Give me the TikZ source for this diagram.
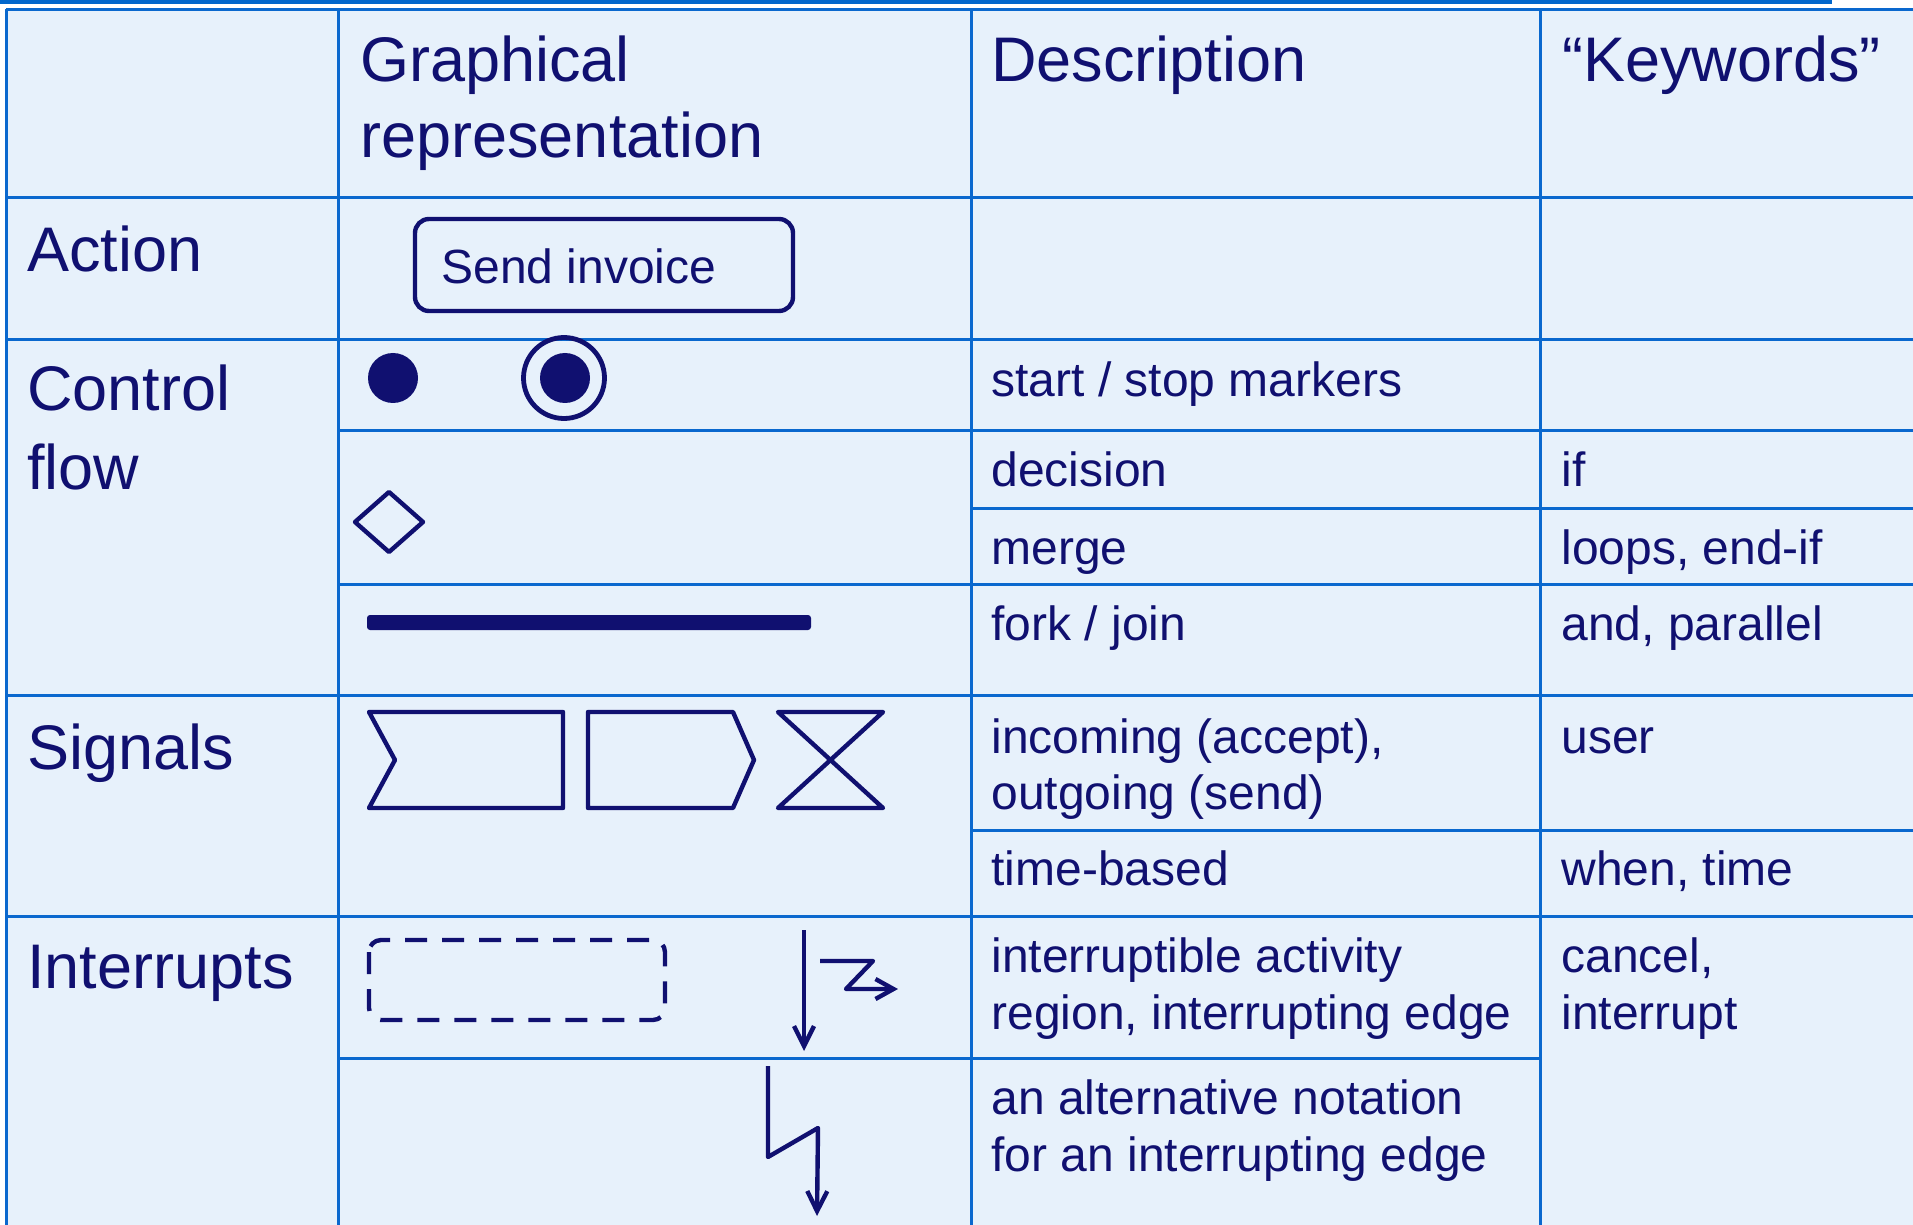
\documentclass[tikz,border=0pt]{standalone}
\usepackage{fontspec}
\setmainfont{Liberation Sans}
\usetikzlibrary{arrows.meta}
\definecolor{ink}{RGB}{16,16,112}
\definecolor{gridblue}{RGB}{10,104,206}
\definecolor{cellbg}{RGB}{231,241,251}
\definecolor{topbar}{RGB}{0,102,204}

\begin{document}
\begin{tikzpicture}[x=0.5pt,y=-0.5pt,
  hdr/.style={anchor=base west, inner sep=0pt, text=ink, font=\fontsize{31.5}{38}\selectfont},
  body/.style={anchor=base west, inner sep=0pt, text=ink, font=\fontsize{24}{28}\selectfont},
  gridline/.style={draw=gridblue, line width=1.5pt},
  glyph/.style={draw=ink, line width=2.2pt, line join=round},
  barb/.style={-{Straight Barb[length=10pt,width=10pt]}}
]
% page and table background
\useasboundingbox (0,0) rectangle (1913,1225);
\fill[white] (0,0) rectangle (1913,1225);
\fill[topbar] (0,0) rectangle (1832,4.5);
\fill[cellbg] (6,9.5) rectangle (1913,1225);

% table rules: full-width rows
\foreach \yy in {9.5,198,340,695,916}
  \draw[gridline] (6,\yy) -- (1913,\yy);
% rows inside the graphical/description/keyword columns
\foreach \yy in {431,584}
  \draw[gridline] (338,\yy) -- (1913,\yy);
% rows inside the description/keyword columns
\foreach \yy in {508,830}
  \draw[gridline] (971,\yy) -- (1913,\yy);
\draw[gridline] (338,1058) -- (1540,1058);
% column rules
\foreach \xx in {6,338,971,1540}
  \draw[gridline] (\xx,9.5) -- (\xx,1225);

% header row
\node[hdr] (hGraph1) at (360,82) {Graphical};
\node[hdr] (hGraph2) at (360,158) {representation};
\node[hdr] (hDesc) at (991,82) {Description};
\node[hdr] (hKey) at (1562,82) {“Keywords”};

% row labels
\node[hdr] (lAction) at (27,272) {Action};
\node[hdr] (lControl) at (27,410) {Control};
\node[hdr] (lFlow) at (27,489) {flow};
\node[hdr] (lSignals) at (27,769) {Signals};
\node[hdr] (lInterrupts) at (27,988) {Interrupts};

% action
\draw[glyph, rounded corners=7pt] (415,219) rectangle (793,311);
\node[body] (sendInvoice) at (441,284) {Send invoice};

% start / stop markers
\fill[ink] (393,378) circle (25);
\draw[ink, line width=2.4pt] (564,378) circle (40.5);
\fill[ink] (565,378) circle (25);

% decision / merge diamond
\draw[glyph] (355,522) -- (389,492) -- (423,522) -- (389,552) -- cycle;

% fork / join bar
\fill[ink, rounded corners=1.5pt] (367,615) rectangle (811,630);

% signals: accept, send, time
\draw[glyph] (369,712) -- (563,712) -- (563,808) -- (369,808) -- (395,760) -- cycle;
\draw[glyph] (588,712) -- (733,712) -- (754,760) -- (733,808) -- (588,808) -- cycle;
\draw[glyph] (778,712) -- (883,712) -- (778,808) -- (883,808) -- cycle;

% interruptible region and interrupting edges
\draw[glyph, dash pattern=on 11pt off 7.5pt, rounded corners=6pt] (369,940) rectangle (665,1020);
\coordinate (dnFrom) at (804,930);
\coordinate (dnTo) at (804,1051);
\draw[glyph, barb] (dnFrom) -- (dnTo);
\coordinate (zzFrom) at (820,961);
\coordinate (zzTo) at (898,989);
\draw[glyph, -{Straight Barb[length=9pt,width=10pt]}] (zzFrom) -- (873,961) -- (846,989) -- (zzTo);
\coordinate (ltFrom) at (768,1066);
\coordinate (ltTo) at (817,1216);
\draw[glyph, barb] (ltFrom) -- (768,1157) -- (818,1128) -- (ltTo);

% descriptions
\node[body] (dStart) at (991,397) {start / stop markers};
\node[body] (dDecision) at (991,487) {decision};
\node[body] (dMerge) at (991,564) {merge};
\node[body] (dFork) at (991,640) {fork / join};
\node[body] (dSig1) at (991,753) {incoming (accept),};
\node[body] (dSig2) at (991,809) {outgoing (send)};
\node[body] (dTime) at (991,885) {time-based};
\node[body] (dInt1) at (991,972) {interruptible activity};
\node[body] (dInt2) at (991,1029) {region, interrupting edge};
\node[body] (dAlt1) at (991,1114) {an alternative notation};
\node[body] (dAlt2) at (991,1171) {for an interrupting edge};

% keywords
\node[body] (kIf) at (1561,487) {if};
\node[body] (kLoops) at (1561,564) {loops, end-if};
\node[body] (kAnd) at (1561,640) {and, parallel};
\node[body] (kUser) at (1561,753) {user};
\node[body] (kWhen) at (1561,885) {when, time};
\node[body] (kCancel1) at (1561,972) {cancel,};
\node[body] (kCancel2) at (1561,1029) {interrupt};
\end{tikzpicture}
\end{document}
